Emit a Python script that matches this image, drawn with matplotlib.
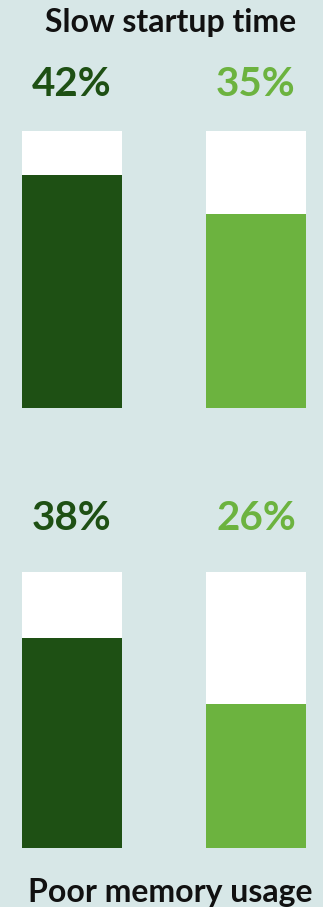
import matplotlib.pyplot as plt

# survey shares, max of the bar scale is 50%
groups = ["Slow startup time", "Poor memory usage"]
series_a = [42, 38]
series_b = [35, 26]
scale_max = 50

BG = "#d7e7e7"
DARK = "#1e5014"
LIGHT = "#6cb33f"

W, H = 323, 907
fig = plt.figure(figsize=(W / 100, H / 100), dpi=100)
fig.patch.set_facecolor(BG)

font = "Lato"

# rows: (top px, bottom px, label offset px)
rows = [(131, 408, 46), (572, 848, 53)]
x0, x1 = 22, 306
bar_w = 100 / 184

for r, (top, bot, off) in enumerate(rows):
    ax = fig.add_axes([x0 / W, (H - bot) / H, (x1 - x0) / W, (bot - top) / H])
    ax.set_xlim(-bar_w / 2, 1 + bar_w / 2)
    ax.set_ylim(0, scale_max)
    ax.axis("off")
    vals = [series_a[r], series_b[r]]
    cols = [DARK, LIGHT]
    ax.bar([0, 1], [scale_max, scale_max], width=bar_w, color="white")
    ax.bar([0, 1], vals, width=bar_w, color=cols)
    for i, v in enumerate(vals):
        ax.annotate(f"{v}%", xy=(i, scale_max), xytext=(0, off),
                    textcoords="offset pixels", ha="center", va="center",
                    fontsize=29, fontweight="bold", color=cols[i], family=font)

fig.text(171 / W, 1 - 32 / H, groups[0], ha="center", va="baseline",
         fontsize=23, fontweight="bold", family=font, color="#111111")
fig.text(170 / W, 1 - 902 / H, groups[1], ha="center", va="baseline",
         fontsize=23, fontweight="bold", family=font, color="#111111")

fig.savefig("out.png", dpi=100, facecolor=BG)
